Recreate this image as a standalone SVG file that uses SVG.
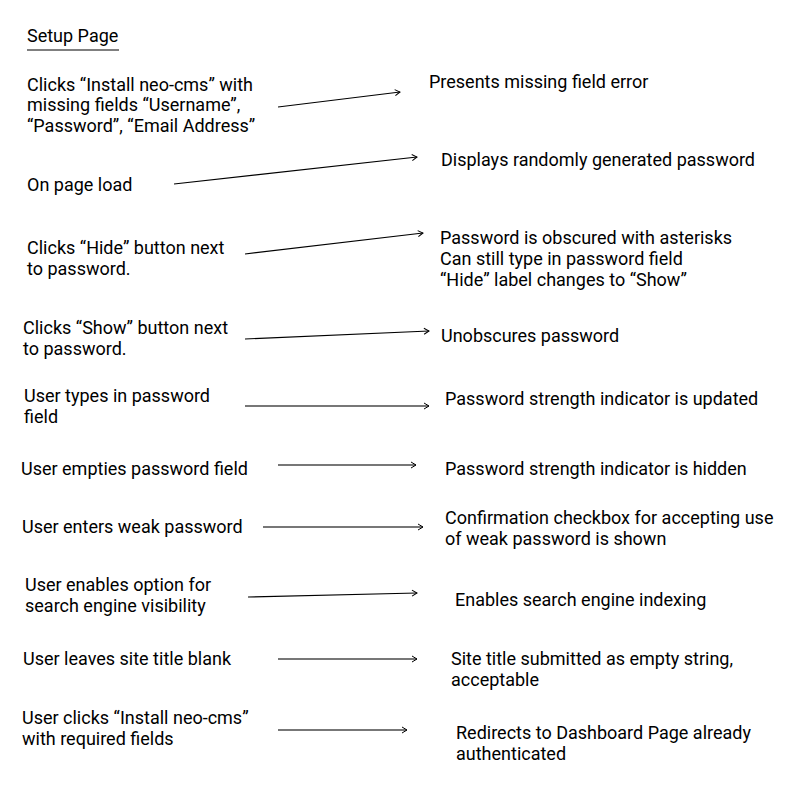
<svg xmlns="http://www.w3.org/2000/svg" width="800" height="800" viewBox="0 0 800 800">
<style>
text{font-family:Roboto,"Liberation Sans",sans-serif;font-size:18px;fill:#000}
.c{fill:none;stroke:#000;stroke-width:1.2}
.g{stroke:#777;stroke-width:1.8}
</style>
<defs>
<marker id="ah" markerWidth="8" markerHeight="8" refX="6" refY="4" orient="auto" markerUnits="userSpaceOnUse">
<path d="M1,1 L6,4 L1,7" fill="none" stroke="#000" stroke-width="1"/>
</marker>
</defs>
<rect width="800" height="800" fill="#fff"/>
<g id="title"><text x="27" y="42">Setup Page</text><line x1="27" y1="50" x2="119" y2="50" stroke="#000" stroke-width="1.2"/></g>
<g id="connectors">
<line class="c" x1="278" y1="107" x2="400" y2="92" marker-end="url(#ah)"/>
<line class="c" x1="174" y1="184" x2="417" y2="157" marker-end="url(#ah)"/>
<line class="c" x1="245" y1="254" x2="423" y2="233" marker-end="url(#ah)"/>
<line class="c" x1="245" y1="339" x2="429" y2="331" marker-end="url(#ah)"/>
<line class="c g" x1="245" y1="406" x2="429" y2="406" marker-end="url(#ah)"/>
<line class="c g" x1="278" y1="465" x2="416" y2="465" marker-end="url(#ah)"/>
<line class="c g" x1="263" y1="527" x2="423" y2="527" marker-end="url(#ah)"/>
<line class="c" x1="248" y1="597" x2="417" y2="593" marker-end="url(#ah)"/>
<line class="c g" x1="278" y1="659" x2="417" y2="659" marker-end="url(#ah)"/>
<line class="c g" x1="278" y1="730" x2="407" y2="730" marker-end="url(#ah)"/>
</g>
<g id="a1"><text x="27" y="91">Clicks “Install neo-cms” with</text><text x="27" y="111">missing fields “Username”,</text><text x="27" y="132">“Password”, “Email Address”</text></g>
<g id="b1"><text x="429" y="88">Presents missing field error</text></g>
<g id="a2"><text x="27" y="191">On page load</text></g>
<g id="b2"><text x="441" y="166">Displays randomly generated password</text></g>
<g id="a3"><text x="27" y="254">Clicks “Hide” button next</text><text x="27" y="275">to password.</text></g>
<g id="b3"><text x="440" y="244">Password is obscured with asterisks</text><text x="440" y="265">Can still type in password field</text><text x="440" y="286">“Hide” label changes to “Show”</text></g>
<g id="a4"><text x="23" y="334">Clicks “Show” button next</text><text x="23" y="355">to password.</text></g>
<g id="b4"><text x="441" y="342">Unobscures password</text></g>
<g id="a5"><text x="24" y="402">User types in password</text><text x="24" y="423">field</text></g>
<g id="b5"><text x="445" y="405">Password strength indicator is updated</text></g>
<g id="a6"><text x="21" y="475">User empties password field</text></g>
<g id="b6"><text x="445" y="475">Password strength indicator is hidden</text></g>
<g id="a7"><text x="22" y="533">User enters weak password</text></g>
<g id="b7"><text x="445" y="524">Confirmation checkbox for accepting use</text><text x="445" y="545">of weak password is shown</text></g>
<g id="a8"><text x="25" y="591">User enables option for</text><text x="25" y="612">search engine visibility</text></g>
<g id="b8"><text x="455" y="606">Enables search engine indexing</text></g>
<g id="a9"><text x="23" y="665">User leaves site title blank</text></g>
<g id="b9"><text x="451" y="665">Site title submitted as empty string,</text><text x="451" y="686">acceptable</text></g>
<g id="a10"><text x="22" y="724">User clicks “Install neo-cms”</text><text x="22" y="745">with required fields</text></g>
<g id="b10"><text x="456" y="739">Redirects to Dashboard Page already</text><text x="456" y="760">authenticated</text></g>
</svg>
